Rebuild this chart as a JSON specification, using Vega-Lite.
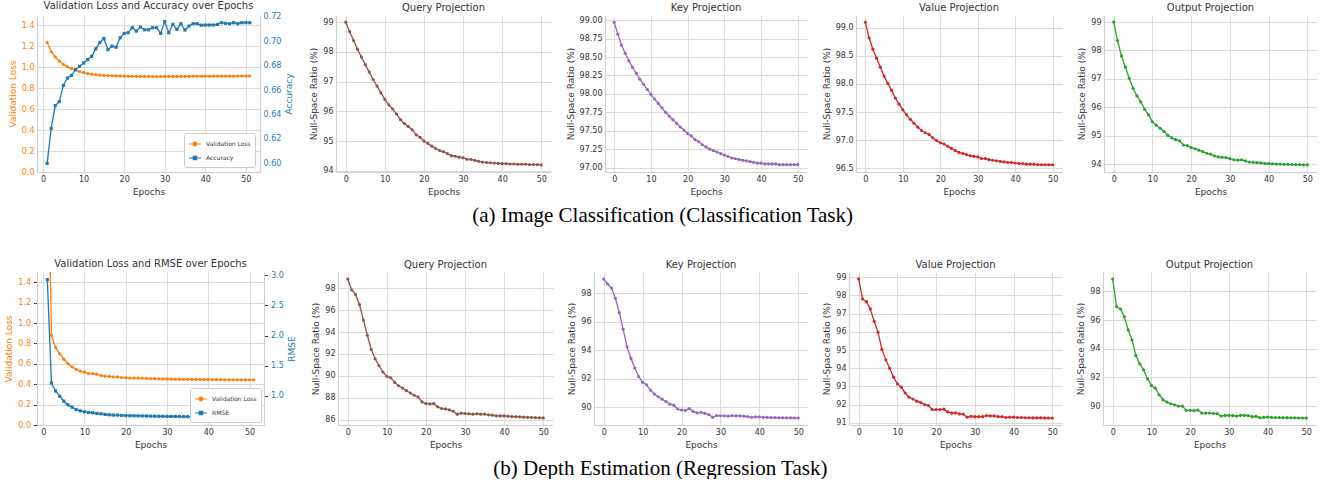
{
"$schema": "https://vega.github.io/schema/vega-lite/v6.json",
"background": "white",
"padding": {"left": 4, "right": 0, "top": 0, "bottom": 0},
"datasets": {
"t1": [
{"epoch":1,"loss":1.238,"acc":0.600},{"epoch":2,"loss":1.15,"acc":0.6286},{"epoch":3,"loss":1.10,"acc":0.6473},{"epoch":4,"loss":1.06,"acc":0.6505},{"epoch":5,"loss":1.027,"acc":0.6637},{"epoch":6,"loss":1.005,"acc":0.6698},{"epoch":7,"loss":0.988,"acc":0.672},{"epoch":8,"loss":0.972,"acc":0.6767},{"epoch":9,"loss":0.959,"acc":0.6794},{"epoch":10,"loss":0.949,"acc":0.6821},
{"epoch":11,"loss":0.940,"acc":0.6849},{"epoch":12,"loss":0.933,"acc":0.6876},{"epoch":13,"loss":0.930,"acc":0.6937},{"epoch":14,"loss":0.926,"acc":0.6989},{"epoch":15,"loss":0.923,"acc":0.7022},{"epoch":16,"loss":0.921,"acc":0.6931},{"epoch":17,"loss":0.920,"acc":0.6959},{"epoch":18,"loss":0.918,"acc":0.695},{"epoch":19,"loss":0.917,"acc":0.7027},{"epoch":20,"loss":0.916,"acc":0.7063},
{"epoch":21,"loss":0.915,"acc":0.7069},{"epoch":22,"loss":0.914,"acc":0.711},{"epoch":23,"loss":0.914,"acc":0.7082},{"epoch":24,"loss":0.913,"acc":0.7115},{"epoch":25,"loss":0.913,"acc":0.7093},{"epoch":26,"loss":0.913,"acc":0.7093},{"epoch":27,"loss":0.912,"acc":0.711},{"epoch":28,"loss":0.912,"acc":0.711},{"epoch":29,"loss":0.912,"acc":0.7063},{"epoch":30,"loss":0.913,"acc":0.716},
{"epoch":31,"loss":0.913,"acc":0.7069},{"epoch":32,"loss":0.913,"acc":0.7137},{"epoch":33,"loss":0.913,"acc":0.7096},{"epoch":34,"loss":0.914,"acc":0.7143},{"epoch":35,"loss":0.914,"acc":0.7091},{"epoch":36,"loss":0.914,"acc":0.7124},{"epoch":37,"loss":0.915,"acc":0.7143},{"epoch":38,"loss":0.915,"acc":0.7143},{"epoch":39,"loss":0.915,"acc":0.713},{"epoch":40,"loss":0.915,"acc":0.7132},
{"epoch":41,"loss":0.915,"acc":0.7132},{"epoch":42,"loss":0.916,"acc":0.7132},{"epoch":43,"loss":0.916,"acc":0.7137},{"epoch":44,"loss":0.916,"acc":0.7151},{"epoch":45,"loss":0.916,"acc":0.7146},{"epoch":46,"loss":0.916,"acc":0.7143},{"epoch":47,"loss":0.916,"acc":0.7151},{"epoch":48,"loss":0.917,"acc":0.7143},{"epoch":49,"loss":0.917,"acc":0.7151},{"epoch":50,"loss":0.917,"acc":0.7151},{"epoch":51,"loss":0.917,"acc":0.7151}
],
"t2": [
{"epoch":1,"loss":3.1,"rmse":2.929},{"epoch":2,"loss":0.879,"rmse":1.214},{"epoch":3,"loss":0.759,"rmse":1.082},{"epoch":4,"loss":0.70,"rmse":0.995},{"epoch":5,"loss":0.645,"rmse":0.912},{"epoch":6,"loss":0.603,"rmse":0.852},{"epoch":7,"loss":0.57,"rmse":0.814},{"epoch":8,"loss":0.547,"rmse":0.775},{"epoch":9,"loss":0.528,"rmse":0.753},{"epoch":10,"loss":0.518,"rmse":0.737},
{"epoch":11,"loss":0.505,"rmse":0.726},{"epoch":12,"loss":0.505,"rmse":0.72},{"epoch":13,"loss":0.498,"rmse":0.71},{"epoch":14,"loss":0.485,"rmse":0.704},{"epoch":15,"loss":0.479,"rmse":0.693},{"epoch":16,"loss":0.476,"rmse":0.688},{"epoch":17,"loss":0.472,"rmse":0.682},{"epoch":18,"loss":0.472,"rmse":0.682},{"epoch":19,"loss":0.466,"rmse":0.677},{"epoch":20,"loss":0.463,"rmse":0.674},
{"epoch":21,"loss":0.461,"rmse":0.672},{"epoch":22,"loss":0.46,"rmse":0.671},{"epoch":23,"loss":0.459,"rmse":0.669},{"epoch":24,"loss":0.458,"rmse":0.668},{"epoch":25,"loss":0.457,"rmse":0.667},{"epoch":26,"loss":0.455,"rmse":0.665},{"epoch":27,"loss":0.454,"rmse":0.664},{"epoch":28,"loss":0.453,"rmse":0.663},{"epoch":29,"loss":0.452,"rmse":0.662},{"epoch":30,"loss":0.452,"rmse":0.661},
{"epoch":31,"loss":0.45,"rmse":0.66},{"epoch":32,"loss":0.449,"rmse":0.659},{"epoch":33,"loss":0.449,"rmse":0.658},{"epoch":34,"loss":0.448,"rmse":0.657},{"epoch":35,"loss":0.448,"rmse":0.656},{"epoch":36,"loss":0.447,"rmse":0.655},{"epoch":37,"loss":0.447,"rmse":0.654},{"epoch":38,"loss":0.446,"rmse":0.653},{"epoch":39,"loss":0.446,"rmse":0.652},{"epoch":40,"loss":0.446,"rmse":0.651},
{"epoch":41,"loss":0.445,"rmse":0.65},{"epoch":42,"loss":0.445,"rmse":0.649},{"epoch":43,"loss":0.445,"rmse":0.648},{"epoch":44,"loss":0.444,"rmse":0.647},{"epoch":45,"loss":0.444,"rmse":0.647},{"epoch":46,"loss":0.444,"rmse":0.646},{"epoch":47,"loss":0.444,"rmse":0.645},{"epoch":48,"loss":0.443,"rmse":0.645},{"epoch":49,"loss":0.443,"rmse":0.644},{"epoch":50,"loss":0.443,"rmse":0.644},{"epoch":51,"loss":0.443,"rmse":0.643}
],
"r1": [
{"epoch":0,"query":99.00,"key":98.97,"value":99.10,"output":99.00},{"epoch":1,"query":98.68,"key":98.81,"value":98.82,"output":98.35},{"epoch":2,"query":98.38,"key":98.66,"value":98.62,"output":97.81},{"epoch":3,"query":98.09,"key":98.55,"value":98.46,"output":97.42},{"epoch":4,"query":97.83,"key":98.45,"value":98.30,"output":97.02},{"epoch":5,"query":97.57,"key":98.36,"value":98.14,"output":96.67},{"epoch":6,"query":97.32,"key":98.28,"value":98.01,"output":96.40},{"epoch":7,"query":97.07,"key":98.20,"value":97.89,"output":96.19},{"epoch":8,"query":96.85,"key":98.13,"value":97.75,"output":95.93},{"epoch":9,"query":96.62,"key":98.06,"value":97.64,"output":95.73},
{"epoch":10,"query":96.40,"key":97.99,"value":97.54,"output":95.49},{"epoch":11,"query":96.22,"key":97.93,"value":97.45,"output":95.37},{"epoch":12,"query":96.08,"key":97.87,"value":97.37,"output":95.26},{"epoch":13,"query":95.91,"key":97.81,"value":97.30,"output":95.15},{"epoch":14,"query":95.72,"key":97.75,"value":97.23,"output":95.01},{"epoch":15,"query":95.59,"key":97.70,"value":97.17,"output":94.92},{"epoch":16,"query":95.49,"key":97.65,"value":97.13,"output":94.86},{"epoch":17,"query":95.38,"key":97.60,"value":97.10,"output":94.82},{"epoch":18,"query":95.21,"key":97.55,"value":97.04,"output":94.67},{"epoch":19,"query":95.13,"key":97.51,"value":96.99,"output":94.65},
{"epoch":20,"query":95.00,"key":97.46,"value":96.95,"output":94.58},{"epoch":21,"query":94.92,"key":97.43,"value":96.93,"output":94.54},{"epoch":22,"query":94.83,"key":97.38,"value":96.89,"output":94.49},{"epoch":23,"query":94.75,"key":97.35,"value":96.85,"output":94.44},{"epoch":24,"query":94.68,"key":97.31,"value":96.81,"output":94.38},{"epoch":25,"query":94.64,"key":97.28,"value":96.78,"output":94.35},{"epoch":26,"query":94.58,"key":97.25,"value":96.76,"output":94.29},{"epoch":27,"query":94.51,"key":97.23,"value":96.74,"output":94.25},{"epoch":28,"query":94.49,"key":97.21,"value":96.72,"output":94.24},{"epoch":29,"query":94.46,"key":97.19,"value":96.71,"output":94.23},
{"epoch":30,"query":94.44,"key":97.17,"value":96.70,"output":94.19},{"epoch":31,"query":94.39,"key":97.15,"value":96.67,"output":94.15},{"epoch":32,"query":94.38,"key":97.13,"value":96.67,"output":94.14},{"epoch":33,"query":94.35,"key":97.12,"value":96.65,"output":94.15},{"epoch":34,"query":94.32,"key":97.11,"value":96.64,"output":94.11},{"epoch":35,"query":94.29,"key":97.10,"value":96.63,"output":94.07},{"epoch":36,"query":94.28,"key":97.09,"value":96.62,"output":94.06},{"epoch":37,"query":94.27,"key":97.08,"value":96.61,"output":94.05},{"epoch":38,"query":94.26,"key":97.07,"value":96.60,"output":94.04},{"epoch":39,"query":94.25,"key":97.06,"value":96.60,"output":94.02},
{"epoch":40,"query":94.24,"key":97.06,"value":96.59,"output":94.02},{"epoch":41,"query":94.24,"key":97.05,"value":96.58,"output":94.01},{"epoch":42,"query":94.23,"key":97.05,"value":96.58,"output":94.00},{"epoch":43,"query":94.23,"key":97.05,"value":96.57,"output":94.00},{"epoch":44,"query":94.22,"key":97.05,"value":96.57,"output":93.99},{"epoch":45,"query":94.22,"key":97.04,"value":96.57,"output":93.99},{"epoch":46,"query":94.22,"key":97.04,"value":96.56,"output":93.98},{"epoch":47,"query":94.21,"key":97.04,"value":96.56,"output":93.98},{"epoch":48,"query":94.21,"key":97.04,"value":96.56,"output":93.98},{"epoch":49,"query":94.21,"key":97.04,"value":96.56,"output":93.97},{"epoch":50,"query":94.20,"key":97.04,"value":96.56,"output":93.97}
],
"r2": [
{"epoch":0,"query":98.85,"key":99.00,"value":98.91,"output":98.86},{"epoch":1,"query":97.85,"key":98.65,"value":97.81,"output":96.93},{"epoch":2,"query":97.45,"key":98.37,"value":97.66,"output":96.77},{"epoch":3,"query":96.51,"key":97.65,"value":97.26,"output":96.24},{"epoch":4,"query":95.11,"key":96.64,"value":96.58,"output":95.31},{"epoch":5,"query":93.71,"key":95.47,"value":95.98,"output":94.61},{"epoch":6,"query":92.41,"key":94.25,"value":95.04,"output":93.52},{"epoch":7,"query":91.56,"key":93.43,"value":94.46,"output":92.94},{"epoch":8,"query":90.92,"key":92.76,"value":94.00,"output":92.52},{"epoch":9,"query":90.35,"key":92.15,"value":93.51,"output":91.90},
{"epoch":10,"query":89.95,"key":91.75,"value":93.14,"output":91.44},{"epoch":11,"query":89.82,"key":91.58,"value":92.96,"output":91.25},{"epoch":12,"query":89.40,"key":91.21,"value":92.64,"output":90.79},{"epoch":13,"query":89.09,"key":90.93,"value":92.41,"output":90.44},{"epoch":14,"query":88.88,"key":90.74,"value":92.31,"output":90.28},{"epoch":15,"query":88.64,"key":90.57,"value":92.19,"output":90.16},{"epoch":16,"query":88.43,"key":90.41,"value":92.11,"output":90.09},{"epoch":17,"query":88.22,"key":90.22,"value":92.00,"output":90.00},{"epoch":18,"query":88.07,"key":90.15,"value":91.95,"output":90.00},{"epoch":19,"query":87.61,"key":89.88,"value":91.73,"output":89.70},
{"epoch":20,"query":87.46,"key":89.81,"value":91.73,"output":89.70},{"epoch":21,"query":87.43,"key":89.79,"value":91.73,"output":89.68},{"epoch":22,"query":87.46,"key":89.91,"value":91.75,"output":89.72},{"epoch":23,"query":87.16,"key":89.70,"value":91.60,"output":89.51},{"epoch":24,"query":87.00,"key":89.61,"value":91.53,"output":89.51},{"epoch":25,"query":86.97,"key":89.65,"value":91.55,"output":89.51},{"epoch":26,"query":86.88,"key":89.58,"value":91.49,"output":89.49},{"epoch":27,"query":86.76,"key":89.49,"value":91.48,"output":89.47},{"epoch":28,"query":86.49,"key":89.30,"value":91.31,"output":89.30},{"epoch":29,"query":86.58,"key":89.42,"value":91.36,"output":89.35},
{"epoch":30,"query":86.55,"key":89.40,"value":91.34,"output":89.35},{"epoch":31,"query":86.52,"key":89.40,"value":91.34,"output":89.33},{"epoch":32,"query":86.49,"key":89.38,"value":91.34,"output":89.30},{"epoch":33,"query":86.52,"key":89.42,"value":91.40,"output":89.35},{"epoch":34,"query":86.49,"key":89.40,"value":91.38,"output":89.35},{"epoch":35,"query":86.49,"key":89.40,"value":91.38,"output":89.33},{"epoch":36,"query":86.43,"key":89.38,"value":91.34,"output":89.26},{"epoch":37,"query":86.40,"key":89.35,"value":91.34,"output":89.28},{"epoch":38,"query":86.33,"key":89.30,"value":91.29,"output":89.19},{"epoch":39,"query":86.33,"key":89.33,"value":91.31,"output":89.21},
{"epoch":40,"query":86.33,"key":89.33,"value":91.31,"output":89.23},{"epoch":41,"query":86.30,"key":89.30,"value":91.29,"output":89.21},{"epoch":42,"query":86.27,"key":89.29,"value":91.29,"output":89.20},{"epoch":43,"query":86.26,"key":89.28,"value":91.28,"output":89.20},{"epoch":44,"query":86.24,"key":89.28,"value":91.28,"output":89.19},{"epoch":45,"query":86.22,"key":89.27,"value":91.27,"output":89.19},{"epoch":46,"query":86.20,"key":89.27,"value":91.27,"output":89.18},{"epoch":47,"query":86.19,"key":89.26,"value":91.27,"output":89.18},{"epoch":48,"query":86.18,"key":89.26,"value":91.26,"output":89.17},{"epoch":49,"query":86.16,"key":89.25,"value":91.26,"output":89.17},{"epoch":50,"query":86.15,"key":89.25,"value":91.26,"output":89.16}
]
},
"resolve": {"scale": {"color": "independent"}},
"spacing": 33,
"vconcat": [
{
"title": {"text": "(a) Image Classification (Classification Task)", "orient": "bottom", "anchor": "middle", "font": "Liberation Serif", "fontSize": 21, "fontWeight": "normal", "color": "#000000", "offset": 9},
"resolve": {"scale": {"color": "independent"}},
"spacing": 15,
"hconcat": [
{
"width": 223, "height": 157,
"title": "Validation Loss and Accuracy over Epochs",
"data": {"name": "t1"},
"encoding": {"x": {"field": "epoch", "type": "quantitative", "scale": {"domain": [-1.5, 53.5], "nice": false, "zero": false}, "axis": {"title": "Epochs", "values": [0,10,20,30,40,50]}}},
"layer": [
{"mark": {"type": "line", "strokeWidth": 1.3, "point": {"filled": true, "size": 10}},
"encoding": {
"y": {"field": "loss", "type": "quantitative", "scale": {"domain": [0, 1.5], "nice": false, "zero": false}, "axis": {"title": "Validation Loss", "values": [0,0.2,0.4,0.6,0.8,1.0,1.2,1.4], "format": ".1f", "labelColor": "#ff7f0e", "titleColor": "#ff7f0e"}},
"color": {"datum": "Validation Loss", "type": "nominal", "scale": {"domain": ["Validation Loss", "Accuracy"], "range": ["#ff7f0e", "#1f77b4"]},
"legend": {"title": null, "orient": "bottom-right", "offset": 5, "fillColor": "white", "strokeColor": "#cccccc", "padding": 4, "cornerRadius": 2, "labelFontSize": 6, "labelFont": "DejaVu Sans", "labelColor": "#333333", "symbolSize": 144, "symbolStrokeWidth": 1.2, "rowPadding": 2, "symbolType": "M-1,0L1,0",
"encode": {"symbols": {"update": {
"shape": {"signal": "datum.value === 'Validation Loss' ? 'M-1,0L1,0M-0.3,0A0.3,0.3,0,1,1,0.3,0A0.3,0.3,0,1,1,-0.3,0Z' : 'M-1,0L1,0M-0.28,-0.28L0.28,-0.28L0.28,0.28L-0.28,0.28Z'"},
"fill": {"signal": "datum.value === 'Validation Loss' ? '#ff7f0e' : '#1f77b4'"},
"stroke": {"signal": "datum.value === 'Validation Loss' ? '#ff7f0e' : '#1f77b4'"}}}}}}
}},
{"mark": {"type": "line", "strokeWidth": 1.3, "point": {"filled": true, "size": 10, "shape": "square"}},
"encoding": {
"y": {"field": "acc", "type": "quantitative", "scale": {"domain": [0.5929, 0.7214], "nice": false, "zero": false}, "axis": {"orient": "right", "grid": false, "title": "Accuracy", "titleAngle": 270, "titleBaseline": "top", "values": [0.60,0.62,0.64,0.66,0.68,0.70,0.72], "format": ".2f", "labelColor": "#1f77b4", "titleColor": "#1f77b4"}},
"color": {"datum": "Accuracy", "type": "nominal"}
}}
],
"resolve": {"scale": {"y": "independent"}}
},
{
"width": 215, "height": 157, "title": "Query Projection", "data": {"name": "r1"},
"mark": {"type": "line", "color": "#8c564b", "strokeWidth": 1.3, "point": {"filled": true, "size": 10, "color": "#8c564b"}},
"encoding": {
"x": {"field": "epoch", "type": "quantitative", "scale": {"domain": [-2.5, 52.5], "nice": false, "zero": false}, "axis": {"title": "Epochs", "values": [0,10,20,30,40,50]}},
"y": {"field": "query", "type": "quantitative", "scale": {"domain": [93.96, 99.24], "nice": false, "zero": false}, "axis": {"title": "Null-Space Ratio (%)", "values": [94,95,96,97,98,99]}}
}
},
{
"width": 202, "height": 157, "title": "Key Projection", "data": {"name": "r1"},
"mark": {"type": "line", "color": "#9467bd", "strokeWidth": 1.3, "point": {"filled": true, "size": 10, "color": "#9467bd"}},
"encoding": {
"x": {"field": "epoch", "type": "quantitative", "scale": {"domain": [-2.5, 52.5], "nice": false, "zero": false}, "axis": {"title": "Epochs", "values": [0,10,20,30,40,50]}},
"y": {"field": "key", "type": "quantitative", "scale": {"domain": [96.94, 99.07], "nice": false, "zero": false}, "axis": {"title": "Null-Space Ratio (%)", "values": [97,97.25,97.5,97.75,98,98.25,98.5,98.75,99], "format": ".2f"}}
}
},
{
"width": 206, "height": 157, "title": "Value Projection", "data": {"name": "r1"},
"mark": {"type": "line", "color": "#d62728", "strokeWidth": 1.3, "point": {"filled": true, "size": 10, "color": "#d62728"}},
"encoding": {
"x": {"field": "epoch", "type": "quantitative", "scale": {"domain": [-2.5, 52.5], "nice": false, "zero": false}, "axis": {"title": "Epochs", "values": [0,10,20,30,40,50]}},
"y": {"field": "value", "type": "quantitative", "scale": {"domain": [96.43, 99.23], "nice": false, "zero": false}, "axis": {"title": "Null-Space Ratio (%)", "values": [96.5,97,97.5,98,98.5,99], "format": ".1f"}}
}
},
{
"width": 213, "height": 157, "title": "Output Projection", "data": {"name": "r1"},
"mark": {"type": "line", "color": "#2ca02c", "strokeWidth": 1.3, "point": {"filled": true, "size": 10, "color": "#2ca02c"}},
"encoding": {
"x": {"field": "epoch", "type": "quantitative", "scale": {"domain": [-2.5, 52.5], "nice": false, "zero": false}, "axis": {"title": "Epochs", "values": [0,10,20,30,40,50]}},
"y": {"field": "output", "type": "quantitative", "scale": {"domain": [93.72, 99.25], "nice": false, "zero": false}, "axis": {"title": "Null-Space Ratio (%)", "values": [94,95,96,97,98,99]}}
}
}
]
},
{
"title": {"text": "(b) Depth Estimation (Regression Task)", "orient": "bottom", "anchor": "middle", "font": "Liberation Serif", "fontSize": 21, "fontWeight": "normal", "color": "#000000", "offset": 9},
"resolve": {"scale": {"color": "independent"}},
"spacing": 14,
"hconcat": [
{
"width": 227, "height": 153,
"title": "Validation Loss and RMSE over Epochs",
"data": {"name": "t2"},
"encoding": {"x": {"field": "epoch", "type": "quantitative", "scale": {"domain": [-1.5, 53.5], "nice": false, "zero": false}, "axis": {"title": "Epochs", "values": [0,10,20,30,40,50]}}},
"layer": [
{"mark": {"type": "line", "strokeWidth": 1.3, "clip": true, "point": {"filled": true, "size": 10}},
"encoding": {
"y": {"field": "loss", "type": "quantitative", "scale": {"domain": [0, 1.5], "nice": false, "zero": false}, "axis": {"title": "Validation Loss", "values": [0,0.2,0.4,0.6,0.8,1.0,1.2,1.4], "format": ".1f", "labelColor": "#ff7f0e", "titleColor": "#ff7f0e", "ticks": true, "tickColor": "#333333", "tickSize": 3.5}},
"color": {"datum": "Validation Loss", "type": "nominal", "scale": {"domain": ["Validation Loss", "RMSE"], "range": ["#ff7f0e", "#1f77b4"]},
"legend": {"title": null, "orient": "bottom-right", "offset": 3, "fillColor": "white", "strokeColor": "#cccccc", "padding": 4, "cornerRadius": 2, "labelFontSize": 6, "labelFont": "DejaVu Sans", "labelColor": "#333333", "symbolSize": 144, "symbolStrokeWidth": 1.2, "rowPadding": 2, "symbolType": "M-1,0L1,0",
"encode": {"symbols": {"update": {
"shape": {"signal": "datum.value === 'Validation Loss' ? 'M-1,0L1,0M-0.3,0A0.3,0.3,0,1,1,0.3,0A0.3,0.3,0,1,1,-0.3,0Z' : 'M-1,0L1,0M-0.28,-0.28L0.28,-0.28L0.28,0.28L-0.28,0.28Z'"},
"fill": {"signal": "datum.value === 'Validation Loss' ? '#ff7f0e' : '#1f77b4'"},
"stroke": {"signal": "datum.value === 'Validation Loss' ? '#ff7f0e' : '#1f77b4'"}}}}}}
}},
{"mark": {"type": "line", "strokeWidth": 1.3, "point": {"filled": true, "size": 10, "shape": "square"}},
"encoding": {
"y": {"field": "rmse", "type": "quantitative", "scale": {"domain": [0.518, 3.055], "nice": false, "zero": false}, "axis": {"orient": "right", "grid": false, "title": "RMSE", "titleAngle": 270, "titleBaseline": "top", "values": [1.0,1.5,2.0,2.5,3.0], "format": ".1f", "labelColor": "#1f77b4", "titleColor": "#1f77b4", "ticks": true, "tickColor": "#333333", "tickSize": 3.5}},
"color": {"datum": "RMSE", "type": "nominal"}
}}
],
"resolve": {"scale": {"y": "independent"}}
},
{
"width": 215, "height": 153, "title": "Query Projection", "data": {"name": "r2"},
"mark": {"type": "line", "color": "#8c564b", "strokeWidth": 1.3, "point": {"filled": true, "size": 10, "color": "#8c564b"}},
"encoding": {
"x": {"field": "epoch", "type": "quantitative", "scale": {"domain": [-2.5, 52.5], "nice": false, "zero": false}, "axis": {"title": "Epochs", "values": [0,10,20,30,40,50]}},
"y": {"field": "query", "type": "quantitative", "scale": {"domain": [85.5, 99.5], "nice": false, "zero": false}, "axis": {"title": "Null-Space Ratio (%)", "values": [86,88,90,92,94,96,98]}}
}
},
{
"width": 214, "height": 153, "title": "Key Projection", "data": {"name": "r2"},
"mark": {"type": "line", "color": "#9467bd", "strokeWidth": 1.3, "point": {"filled": true, "size": 10, "color": "#9467bd"}},
"encoding": {
"x": {"field": "epoch", "type": "quantitative", "scale": {"domain": [-2.5, 52.5], "nice": false, "zero": false}, "axis": {"title": "Epochs", "values": [0,10,20,30,40,50]}},
"y": {"field": "key", "type": "quantitative", "scale": {"domain": [88.76, 99.49], "nice": false, "zero": false}, "axis": {"title": "Null-Space Ratio (%)", "values": [90,92,94,96,98]}}
}
},
{
"width": 213, "height": 153, "title": "Value Projection", "data": {"name": "r2"},
"mark": {"type": "line", "color": "#d62728", "strokeWidth": 1.3, "point": {"filled": true, "size": 10, "color": "#d62728"}},
"encoding": {
"x": {"field": "epoch", "type": "quantitative", "scale": {"domain": [-2.5, 52.5], "nice": false, "zero": false}, "axis": {"title": "Epochs", "values": [0,10,20,30,40,50]}},
"y": {"field": "value", "type": "quantitative", "scale": {"domain": [90.88, 99.29], "nice": false, "zero": false}, "axis": {"title": "Null-Space Ratio (%)", "values": [91,92,93,94,95,96,97,98,99]}}
}
},
{
"width": 213, "height": 153, "title": "Output Projection", "data": {"name": "r2"},
"mark": {"type": "line", "color": "#2ca02c", "strokeWidth": 1.3, "point": {"filled": true, "size": 10, "color": "#2ca02c"}},
"encoding": {
"x": {"field": "epoch", "type": "quantitative", "scale": {"domain": [-2.5, 52.5], "nice": false, "zero": false}, "axis": {"title": "Epochs", "values": [0,10,20,30,40,50]}},
"y": {"field": "output", "type": "quantitative", "scale": {"domain": [88.68, 99.35], "nice": false, "zero": false}, "axis": {"title": "Null-Space Ratio (%)", "values": [90,92,94,96,98]}}
}
}
]
}
],
"config": {
"view": {"stroke": null},
"font": "DejaVu Sans",
"axis": {"labelFont": "DejaVu Sans", "titleFont": "DejaVu Sans", "labelFontSize": 8, "titleFontSize": 9, "labelColor": "#333333", "titleColor": "#333333", "titleFontWeight": "normal", "gridColor": "#dadada", "gridWidth": 1, "domainColor": "#cfcfcf", "domainWidth": 1.2, "ticks": false, "labelPadding": 3, "titlePadding": 4, "labelOverlap": false},
"title": {"font": "DejaVu Sans", "fontSize": 10, "fontWeight": "normal", "color": "#333333", "offset": 2}
}
}
